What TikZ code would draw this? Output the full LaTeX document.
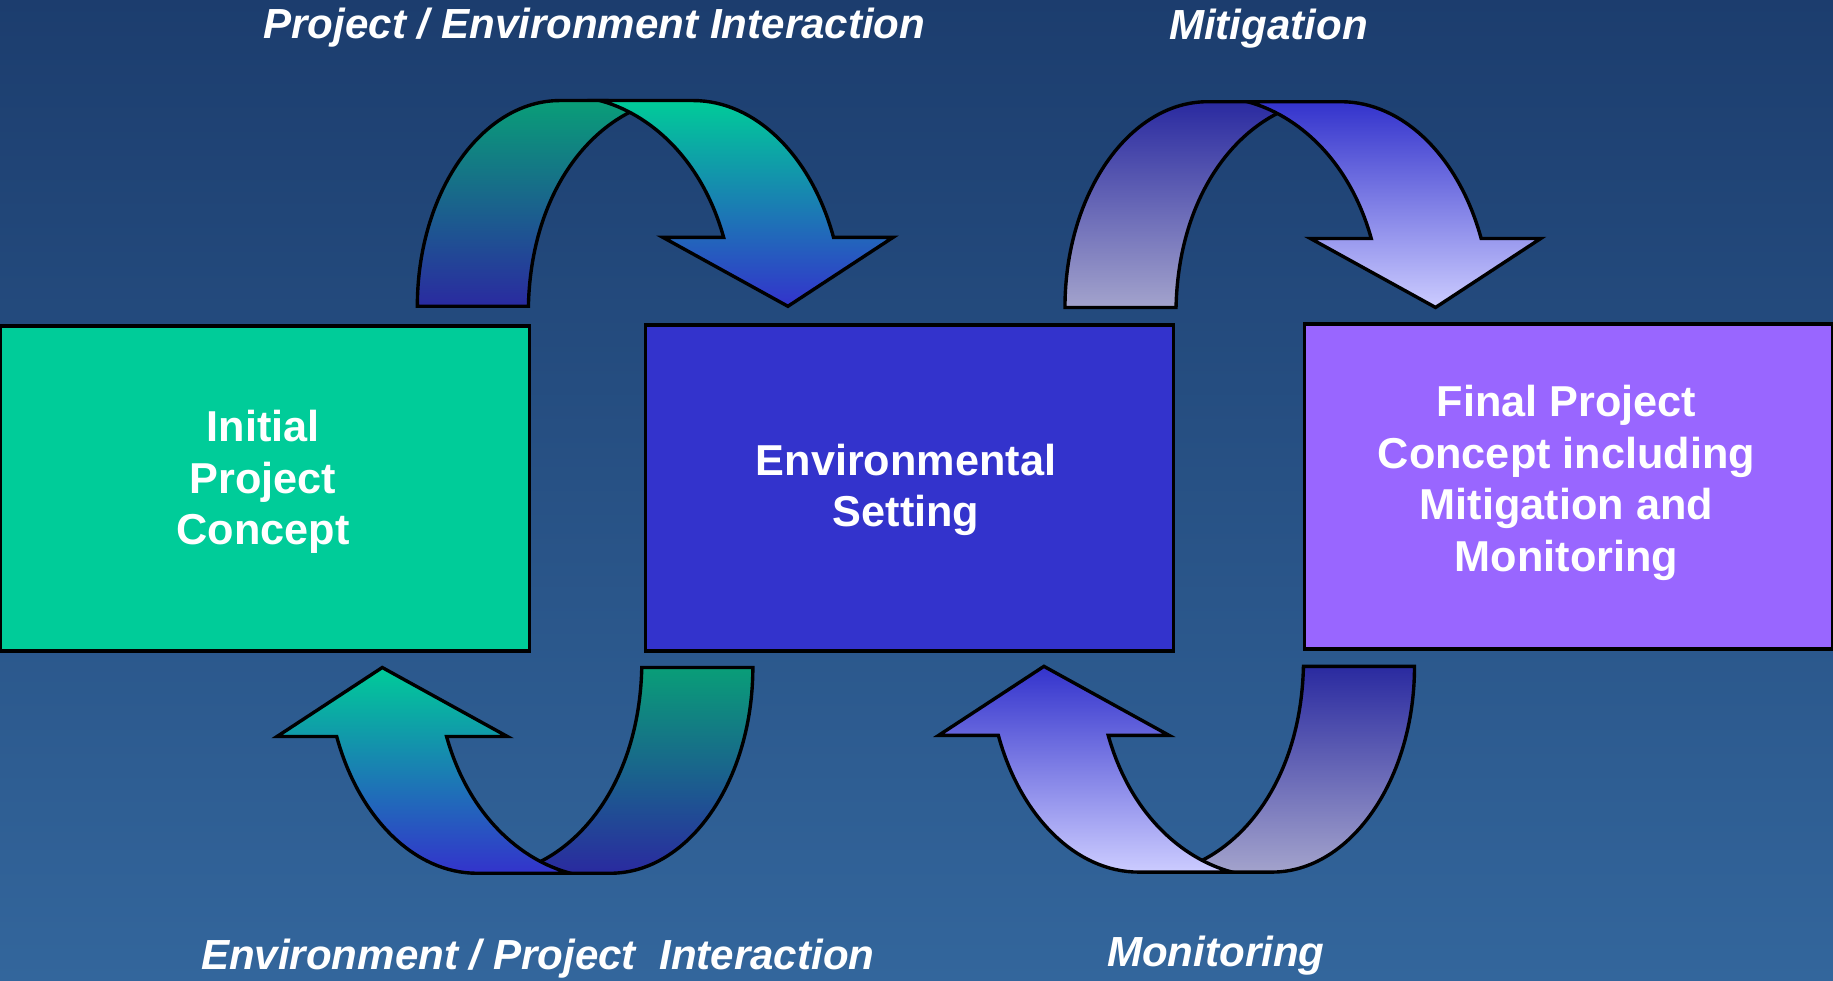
\documentclass[tikz,border=0pt]{standalone}
\usepackage{fontspec}
\setmainfont{Liberation Sans}

\definecolor{bgtop}{HTML}{1C3D6E}
\definecolor{bgbot}{HTML}{33669C}
\definecolor{boxgreen}{HTML}{00CC99}
\definecolor{boxblue}{HTML}{3333CC}
\definecolor{boxpurple}{HTML}{9966FF}
% ribbon arrow gradients
\definecolor{gback}{HTML}{099E78}
\definecolor{bback}{HTML}{2A2AA0}
\definecolor{gfront}{HTML}{00CC99}
\definecolor{bfront}{HTML}{3333CC}
\definecolor{lback}{HTML}{A3A3CC}
\definecolor{lfront}{HTML}{CCCCFF}

% A folded ribbon arrow: #1,#2 offset, #3 = 1 (opens down) or -1 (turned over),
% #4/#5 colours of the rear band, #6/#7 colours of the front band with the head.
\newcommand\ribbonarrow[7]{%
  \def\rbx{#1}\def\rby{#2}\def\rbs{#3}%
  \path[outline,top color=#4,bottom color=#5]
    ({\rbx+\rbs*357},{\rby+\rbs*262})
      .. controls ({\rbx+\rbs*357},{\rby+\rbs*165}) and ({\rbx+\rbs*412},{\rby+\rbs*86})
      .. ({\rbx+\rbs*479},{\rby+\rbs*86})
    -- ({\rbx+\rbs*520},{\rby+\rbs*86})
    -- ({\rbx+\rbs*545},{\rby+\rbs*93})
      .. controls ({\rbx+\rbs*495},{\rby+\rbs*115}) and ({\rbx+\rbs*454},{\rby+\rbs*175})
      .. ({\rbx+\rbs*452},{\rby+\rbs*262})
    -- cycle;
  \path[outline,top color=#6,bottom color=#7]
    ({\rbx+\rbs*513},{\rby+\rbs*86})
    -- ({\rbx+\rbs*593},{\rby+\rbs*86})
      .. controls ({\rbx+\rbs*646},{\rby+\rbs*86}) and ({\rbx+\rbs*694},{\rby+\rbs*133})
      .. ({\rbx+\rbs*713},{\rby+\rbs*203})
    -- ({\rbx+\rbs*764},{\rby+\rbs*203})
    -- ({\rbx+\rbs*674},{\rby+\rbs*262})
    -- ({\rbx+\rbs*567},{\rby+\rbs*203})
    -- ({\rbx+\rbs*619},{\rby+\rbs*203})
      .. controls ({\rbx+\rbs*600},{\rby+\rbs*135}) and ({\rbx+\rbs*555},{\rby+\rbs*97})
      .. ({\rbx+\rbs*513},{\rby+\rbs*86})
    -- cycle;
}

\begin{document}
\begin{tikzpicture}[x=1pt,y=-1pt,
  outline/.style={draw=black,line width=2.9pt,line join=miter},
  box/.style={outline,rectangle,inner sep=0pt,outer sep=0pt,
    minimum width=452pt,minimum height=278pt},
  boxtext/.style={text=white,inner sep=0pt,align=center,
    font=\fontsize{37}{44}\selectfont\bfseries},
  caption/.style={text=white,inner sep=0pt,anchor=base,
    font=\fontsize{36}{40}\selectfont\bfseries\itshape}]

% backdrop
\shade[top color=bgtop,bottom color=bgbot] (0,0) rectangle (1568,839);
\useasboundingbox (0,0) rectangle (1568,839);

% the three stages
\node[box,fill=boxgreen,minimum width=453pt] (initial) at (226.5,418) {};
\node[box,fill=boxblue,minimum height=279pt] (setting) at (778,417.5) {};
\node[box,fill=boxpurple] (final) at (1342,416) {};

\node[boxtext] (initialtxt) at (225,412.5) {Initial\\Project\\Concept};
\node[boxtext] (settingtxt) at (775,419) {Environmental\\Setting};
\node[boxtext] (finaltxt) at (1340,413) {Final Project\\Concept including\\Mitigation and\\Monitoring};

% feedback ribbons
\ribbonarrow{0}{0}{1}{gback}{bback}{gfront}{bfront}
\ribbonarrow{554}{1}{1}{bback}{lback}{bfront}{lfront}
\ribbonarrow{1001}{833}{-1}{gback}{bback}{gfront}{bfront}
\ribbonarrow{1567}{832}{-1}{bback}{lback}{bfront}{lfront}

% ribbon captions
\node[caption] (pei) at (508.5,33) {Project / Environment Interaction};
\node[caption] (mit) at (1085,34) {Mitigation};
\node[caption] (epi) at (460,829) {Environment / Project\ \ Interaction};
\node[caption] (mon) at (1040,827) {Monitoring};
\end{tikzpicture}
\end{document}
